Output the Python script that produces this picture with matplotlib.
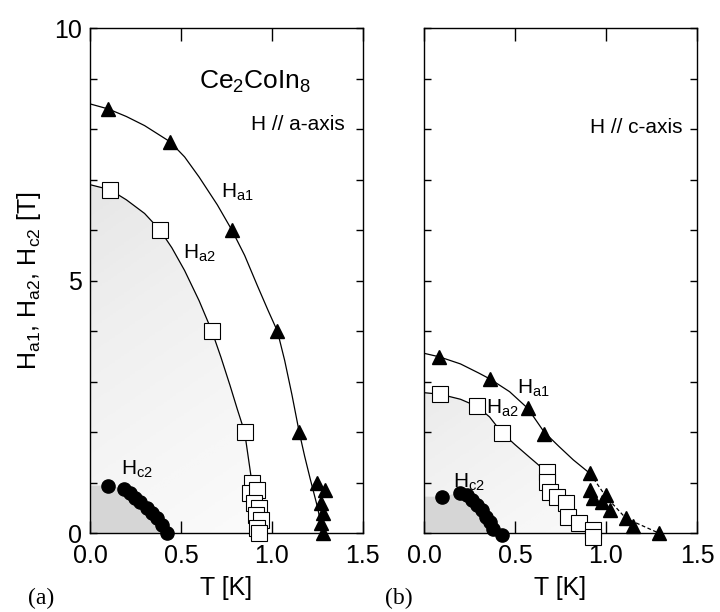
import numpy as np
import matplotlib
matplotlib.use("Agg")
import matplotlib.pyplot as plt
from matplotlib.patches import Polygon

plt.rcParams['font.family'] = ['Liberation Sans', 'DejaVu Sans']
plt.rcParams['mathtext.fontset'] = 'custom'
plt.rcParams['mathtext.rm'] = 'Liberation Sans'
plt.rcParams['mathtext.it'] = 'Liberation Sans'

# --- panel (a): H // a-axis ---
a_ha1_T = [0.10, 0.44, 0.78, 1.03, 1.15, 1.25, 1.29, 1.27, 1.28, 1.27, 1.28]
a_ha1_H = [8.40, 7.75, 6.00, 4.00, 2.00, 1.00, 0.85, 0.60, 0.40, 0.20, 0.00]
a_ha2_T = [0.11, 0.385, 0.67, 0.85, 0.89, 0.88, 0.92, 0.90, 0.93, 0.91, 0.94, 0.92, 0.93]
a_ha2_H = [6.80, 6.00, 4.00, 2.00, 1.00, 0.80, 0.85, 0.60, 0.50, 0.35, 0.25, 0.10, 0.00]
a_hc2_T = [0.10, 0.187, 0.22, 0.247, 0.275, 0.311, 0.339, 0.366, 0.394, 0.421]
a_hc2_H = [0.94, 0.88, 0.79, 0.69, 0.62, 0.49, 0.39, 0.29, 0.16, 0.00]

# guide curves
a_ha1_curve_T = [0.0, 0.10, 0.20, 0.30, 0.44, 0.52, 0.60, 0.70, 0.78, 0.85,
                 0.92, 0.98, 1.03, 1.07, 1.11, 1.15, 1.18, 1.21, 1.25, 1.28]
a_ha1_curve_H = [8.50, 8.40, 8.25, 8.07, 7.75, 7.45, 7.05, 6.50, 6.00, 5.50,
                 4.90, 4.40, 4.00, 3.42, 2.74, 2.00, 1.52, 1.08, 0.52, 0.00]
a_ha2_curve_T = [0.0, 0.11, 0.20, 0.30, 0.385, 0.45, 0.52, 0.60, 0.67, 0.72,
                 0.77, 0.81, 0.85, 0.87, 0.89]
a_ha2_curve_H = [6.90, 6.80, 6.60, 6.33, 6.00, 5.65, 5.20, 4.60, 4.00, 3.48,
                 2.92, 2.45, 2.00, 1.50, 1.00]

# --- panel (b): H // c-axis ---
b_ha1_T = [0.084, 0.363, 0.57, 0.66, 0.912, 0.912, 0.93, 1.00, 0.976, 1.02, 1.11, 1.15, 1.29]
b_ha1_H = [3.49, 3.05, 2.47, 1.97, 1.18, 0.85, 0.69, 0.75, 0.62, 0.46, 0.29, 0.13, 0.00]
b_ha2_T = [0.088, 0.29, 0.427, 0.674, 0.674, 0.69, 0.73, 0.78, 0.79, 0.85, 0.93, 0.93]
b_ha2_H = [2.75, 2.51, 1.99, 1.21, 1.02, 0.82, 0.72, 0.59, 0.32, 0.20, 0.06, -0.07]
b_hc2_T = [0.097, 0.198, 0.234, 0.262, 0.29, 0.317, 0.341, 0.363, 0.381, 0.427]
b_hc2_H = [0.72, 0.80, 0.75, 0.65, 0.55, 0.46, 0.32, 0.22, 0.09, -0.04]

b_ha1_curve_T = [0.0, 0.084, 0.20, 0.30, 0.363, 0.47, 0.57, 0.66, 0.74, 0.82, 0.912]
b_ha1_curve_H = [3.56, 3.49, 3.35, 3.17, 3.05, 2.80, 2.47, 2.00, 1.72, 1.45, 1.18]
b_ha1_tail_T = [0.912, 1.00, 1.11, 1.29]
b_ha1_tail_H = [1.18, 0.72, 0.29, 0.00]
b_ha2_curve_T = [0.0, 0.088, 0.20, 0.29, 0.36, 0.427, 0.50, 0.58, 0.674]
b_ha2_curve_H = [2.78, 2.75, 2.65, 2.51, 2.30, 1.99, 1.75, 1.50, 1.21]

fig = plt.figure(figsize=(7.2, 6.12), dpi=100)
ax_a = fig.add_axes([0.125, 0.129, 0.379, 0.825])
ax_b = fig.add_axes([0.589, 0.129, 0.379, 0.825])


def shade(ax, curve_T, curve_H, end_T, hc_T, hc_H, light):
    verts = list(zip(curve_T, curve_H)) + [(end_T, 0.0), (0.0, 0.0)]
    poly = Polygon(verts, closed=True, facecolor='none', edgecolor='none')
    ax.add_patch(poly)
    grad = np.linspace(0, 1, 256).reshape(-1, 1) * np.ones((1, 64))
    grad = grad + np.linspace(0, 0.35, 64)[None, :]
    im = ax.imshow(grad, extent=[0, 1.0, 0, 7.0], origin='upper', cmap='Greys_r',
                   vmin=-7.4 + light, vmax=1.62, aspect='auto', zorder=0)
    im.set_clip_path(poly)
    hv = list(zip(hc_T, hc_H)) + [(0.0, 0.0)]
    ax.add_patch(Polygon([(0, hc_H[0])] + hv, closed=True, facecolor='#d6d6d6',
                         edgecolor='none', zorder=0.5))


shade(ax_a, a_ha2_curve_T, a_ha2_curve_H, 0.92, a_hc2_T, a_hc2_H, 0.0)
shade(ax_b, b_ha2_curve_T + [0.8], b_ha2_curve_H + [0.4], 0.9, b_hc2_T, b_hc2_H, 2.5)

lw = 0.9
ax_a.plot(a_ha1_curve_T, a_ha1_curve_H, color='black', lw=lw, zorder=2)
ax_a.plot(a_ha2_curve_T, a_ha2_curve_H, color='black', lw=lw, zorder=2)
ax_b.plot(b_ha1_curve_T, b_ha1_curve_H, color='black', lw=lw, zorder=2)
ax_b.plot(b_ha1_tail_T, b_ha1_tail_H, color='black', lw=lw, ls=(0, (3, 2)), zorder=2)
ax_b.plot(b_ha2_curve_T, b_ha2_curve_H, color='black', lw=lw, zorder=2)

for ax, (t1, h1), (t2, h2), (tc, hc) in [
        (ax_a, (a_ha1_T, a_ha1_H), (a_ha2_T, a_ha2_H), (a_hc2_T, a_hc2_H)),
        (ax_b, (b_ha1_T, b_ha1_H), (b_ha2_T, b_ha2_H), (b_hc2_T, b_hc2_H))]:
    ax.plot(t2, h2, 's', ms=11, mfc='white', mec='black', mew=0.8,
            clip_on=False, zorder=3)
    ax.plot(t1, h1, '^', ms=10, color='black', clip_on=False, zorder=4)
    ax.plot(tc, hc, 'o', ms=9.5, color='black', clip_on=False, zorder=4)

for ax in (ax_a, ax_b):
    ax.set_xlim(0, 1.5)
    ax.set_ylim(0, 10)
    ax.set_xticks([0.0, 0.5, 1.0, 1.5])
    ax.set_xticklabels(['0.0', '0.5', '1.0', '1.5'])
    ax.set_yticks(np.arange(0, 11, 1))
    ax.tick_params(axis='x', direction='in', top=True, length=9, width=1,
                   labelsize=18, pad=8)
    ax.tick_params(axis='y', direction='in', right=True, length=5, width=1,
                   labelsize=18, pad=6)
    for sp in ax.spines.values():
        sp.set_linewidth(1.0)
    ax.set_xlabel('T [K]', fontsize=18, labelpad=6)

ax_a.set_yticklabels(['0', '', '', '', '', '5', '', '', '', '', '10'])
ax_b.set_yticklabels([])
ax_a.set_ylabel('H$_{\\rm a1}$, H$_{\\rm a2}$, H$_{\\rm c2}$ [T]', fontsize=18, labelpad=8)

ax_a.text(0.6, 8.93, 'Ce$_2$CoIn$_8$', fontsize=19, ha='left', va='center')
ax_a.text(1.40, 8.10, 'H // a-axis', fontsize=15, ha='right', va='center')
ax_b.text(1.42, 8.04, 'H // c-axis', fontsize=15, ha='right', va='center')

sub = 15
ax_a.text(0.72, 6.75, 'H$_{\\rm a1}$', fontsize=sub, va='center')
ax_a.text(0.51, 5.54, 'H$_{\\rm a2}$', fontsize=sub, va='center')
ax_a.text(0.17, 1.27, 'H$_{\\rm c2}$', fontsize=sub, va='center')
ax_b.text(0.51, 2.87, 'H$_{\\rm a1}$', fontsize=sub, va='center')
ax_b.text(0.34, 2.47, 'H$_{\\rm a2}$', fontsize=sub, va='center')
ax_b.text(0.16, 1.01, 'H$_{\\rm c2}$', fontsize=sub, va='center')

fig.text(28 / 720, 1 - 598 / 612, '(a)', fontsize=17, family='Liberation Serif',
         ha='left', va='center')
fig.text(385 / 720, 1 - 598 / 612, '(b)', fontsize=17, family='Liberation Serif',
         ha='left', va='center')

fig.savefig('out.png', dpi=100)
